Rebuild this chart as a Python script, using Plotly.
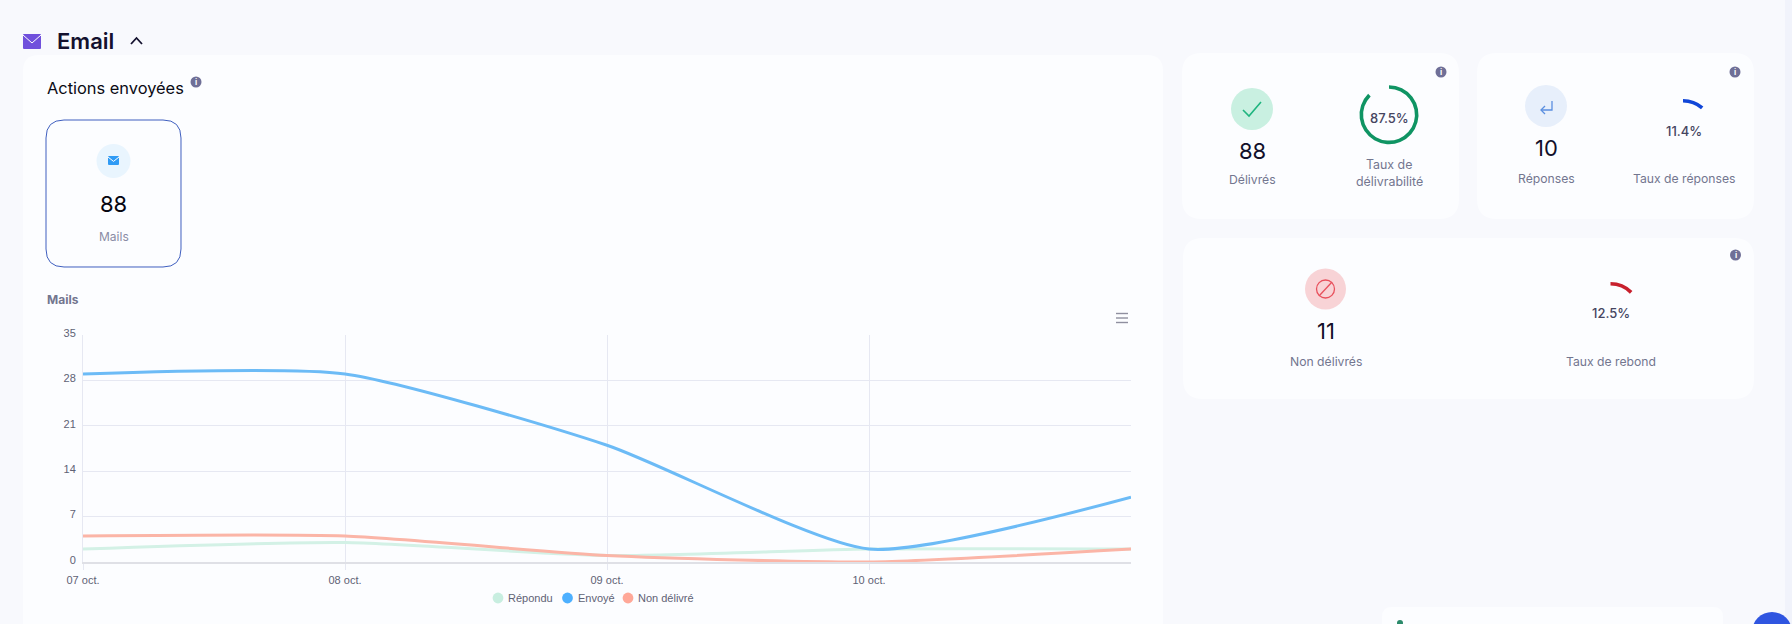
import plotly.graph_objects as go

# Chart data.
days = ['07 oct.', '08 oct.', '09 oct.', '10 oct.', '11 oct.']
day_labels = ['07 oct.', '08 oct.', '09 oct.', '10 oct.']
series_names = ['Répondu', 'Envoyé', 'Non délivré']
repondu = [2, 3, 1, 2, 2]
envoye = [29, 29, 18, 2, 10]
non_delivre = [4, 4, 1, 0, 2]
y_ticks = [0, 7, 14, 21, 28, 35]

# Gauge values.
gauge_names = ['Taux de délivrabilité', 'Taux de réponses', 'Taux de rebond']
gauge_values = [87.5, 11.4, 12.5]

W, H = 1792, 624
TEXT_FONT = 'Inter, Liberation Sans, sans-serif'
CHART_FONT = 'Liberation Sans, Arial, sans-serif'
BG = '#f8f9fd'
CARD = '#fcfdff'
GRID = '#e6e8f2'
LINE_COLORS = ['#d3f1e6', '#6cbbf6', '#fbb5a7']
LEGEND_COLORS = ['#c8eee0', '#4db0ff', '#ffa898']
GREY = '#73768f'
INFO = '#6f6f97'


def px(x):
    return x / W


def py(y):
    return 1 - y / H


def pt(x, y):
    return f'{px(x):.5f},{py(y):.5f}'


shapes = []
annotations = []


def path(d, fill=None, line=None, width=1):
    shapes.append(dict(type='path', xref='paper', yref='paper', path=d, layer='below',
                       fillcolor=fill or 'rgba(0,0,0,0)',
                       line=dict(color=line or 'rgba(0,0,0,0)', width=width if line else 0)))


def round_rect(x0, y0, x1, y1, r, fill=None, line=None, width=1):
    d = ('M' + pt(x0 + r, y0) + ' L' + pt(x1 - r, y0) + ' Q' + pt(x1, y0) + ' ' + pt(x1, y0 + r)
         + ' L' + pt(x1, y1 - r) + ' Q' + pt(x1, y1) + ' ' + pt(x1 - r, y1)
         + ' L' + pt(x0 + r, y1) + ' Q' + pt(x0, y1) + ' ' + pt(x0, y1 - r)
         + ' L' + pt(x0, y0 + r) + ' Q' + pt(x0, y0) + ' ' + pt(x0 + r, y0) + ' Z')
    path(d, fill, line, width)


def circle(cx, cy, r, fill=None, line=None, width=1):
    shapes.append(dict(type='circle', xref='paper', yref='paper', layer='below',
                       x0=px(cx - r), x1=px(cx + r), y0=py(cy + r), y1=py(cy - r),
                       fillcolor=fill or 'rgba(0,0,0,0)',
                       line=dict(color=line or 'rgba(0,0,0,0)', width=width if line else 0)))


def polyline(points, color, width=1.5):
    d = 'M' + ' L'.join(pt(x, y) for x, y in points)
    path(d, None, color, width)


def label(x, y, text, size=12, color=GREY, weight=400, anchor='center', family=TEXT_FONT):
    annotations.append(dict(xref='paper', yref='paper', x=px(x), y=py(y), text=text, showarrow=False,
                            xanchor=anchor, yanchor='middle', borderpad=0,
                            font=dict(family=family, size=size, color=color, weight=weight)))


def info(x, y):
    circle(x, y, 5.5, INFO)
    label(x, y, 'i', 8, 'white', 700)


def envelope(x0, y0, x1, y1, color):
    round_rect(x0, y0, x1, y1, 1, color)
    mx = (x0 + x1) / 2
    my = y0 + (y1 - y0) * 0.6
    polyline([(x0, y0 + 1), (mx, my), (x1, y0 + 1)], 'white', 1)


# Cards and page furniture.
shapes.append(dict(type='rect', xref='paper', yref='paper', layer='below', x0=px(1785), x1=1, y0=0, y1=1,
                   fillcolor='#f1f3fb', line=dict(width=0)))
round_rect(23, 55, 1163, 660, 16, CARD)
round_rect(1182, 53, 1459, 219, 20, CARD)
round_rect(1477, 53, 1754, 219, 20, CARD)
round_rect(1183, 238, 1754, 399, 20, CARD)
round_rect(1382, 607, 1723, 660, 10, CARD)
circle(1400, 623, 3, '#2b8a6a')
circle(1772, 632, 20, '#2f55e0')

# Header.
envelope(23, 34, 41, 49, '#7050dc')
label(56, 41, 'Email', 22, '#14112e', 600, 'left')
polyline([(131, 44), (136.5, 38), (142, 44)], '#14112e', 1.8)
label(45.5, 88, 'Actions envoyées', 16.4, '#0a0a14', 400, 'left')
info(196, 82)

# Mails box.
round_rect(46, 120, 181, 267, 18, None, '#3f5fbf', 1)
circle(113.5, 161, 17, '#e9f5fe')
envelope(108, 156, 119, 165, '#2f9bf5')
label(113.5, 204, '88', 22, '#05050f', 400)
label(113.5, 236, 'Mails', 12, '#8a8ca5')
label(45.5, 299, 'Mails', 12, GREY, 700, 'left')

# Delivered card.
info(1441, 72)
circle(1252, 109, 21, '#c9f0e1')
polyline([(1243, 110), (1249, 116), (1261, 102)], '#1fb57f', 1.6)
label(1252, 151, '88', 22, '#12102a', 400)
label(1252, 180, 'Délivrés', 12.2)
label(1389, 118, '87.5%', 13, '#45455f', 500)
label(1389, 165, 'Taux de', 12.4)
label(1389, 181, 'délivrabilité', 12.4)

# Replies card.
info(1735, 72)
circle(1546, 106, 21, '#e7effb')
polyline([(1552, 101), (1552, 110), (1542, 110)], '#5b8fe0', 1.3)
polyline([(1545, 106), (1541, 110), (1545, 114)], '#5b8fe0', 1.3)
label(1546, 148, '10', 22, '#12102a', 400)
label(1546, 178, 'Réponses', 12.2)
label(1684, 131, '11.4%', 13, '#45455f', 500)
label(1684, 178, 'Taux de réponses', 12.2)

# Bounce card.
info(1735.5, 255)
circle(1325.5, 289, 20.5, '#f8d3d6')
circle(1325.5, 289, 9, None, '#e8505c', 1.3)
polyline([(1319, 296), (1332, 282)], '#e8505c', 1.3)
label(1325.5, 331, '11', 22, '#12102a', 400)
label(1325.5, 361, 'Non délivrés', 12.2)
label(1610.5, 313, '12.5%', 13, '#45455f', 500)
label(1610.5, 361, 'Taux de rebond', 12.2)

# Chart menu icon.
for y in [313.5, 318, 322.5]:
    polyline([(1116, y), (1128, y)], '#8f8f9f', 1.4)

# Legend under the chart.
legend_marks = [498, 567.5, 628]
for name, color, x in zip(series_names, LEGEND_COLORS, legend_marks):
    circle(x, 598, 5.4, color)
    label(x + 9, 598, name, 11, '#5f6275', 400, 'left', CHART_FONT)

fig = go.Figure()

# The three chart lines.
for name, values, color in zip(series_names, [repondu, envoye, non_delivre], LINE_COLORS):
    fig.add_trace(go.Scatter(x=days, y=values, name=name, mode='lines', cliponaxis=False,
                             line=dict(color=color, width=3, shape='spline', smoothing=0.6)))

# The three gauges as donuts.
gauge_places = [(1389, 114.7, 29.5, '#0f9463'), (1683, 130, 31, '#1046d8'), (1610.5, 313, 31, '#c8202d')]
for name, value, (cx, cy, r, color) in zip(gauge_names, gauge_values, gauge_places):
    fig.add_trace(go.Pie(values=[value, 100 - value], labels=[name, ''], sort=False, direction='clockwise',
                         rotation=0, hole=(r - 3.6) / r, textinfo='none', showlegend=False,
                         marker=dict(colors=[color, 'rgba(0,0,0,0)'], line=dict(width=0)),
                         domain=dict(x=[px(cx - r), px(cx + r)], y=[py(cy + r), py(cy - r)])))

fig.update_layout(
    width=W, height=H, margin=dict(l=0, r=0, t=0, b=0, pad=0, autoexpand=False),
    paper_bgcolor=BG, plot_bgcolor='rgba(0,0,0,0)', showlegend=False,
    shapes=shapes, annotations=annotations,
    xaxis=dict(domain=[px(83), px(1131)], type='category', categoryorder='array', categoryarray=days,
               range=[0, 4], tickvals=day_labels, ticktext=day_labels, showgrid=True, gridcolor=GRID,
               gridwidth=1, showline=True, linecolor='#dfe0e6', linewidth=2, ticks='outside', ticklen=6,
               tickcolor=GRID, tickfont=dict(family=CHART_FONT, size=11, color='#5f6275'), zeroline=False,
               ticklabelstandoff=1, automargin=False),
    yaxis=dict(domain=[py(562), py(335)], range=[0, 35], tickvals=y_ticks, showgrid=True, gridcolor=GRID,
               gridwidth=1, showline=True, linecolor=GRID, linewidth=1, ticks='', zeroline=False,
               tickfont=dict(family=CHART_FONT, size=11, color='#5f6275'), ticklabelstandoff=4,
               ticklabelshift=-2, automargin=False),
)

# The page itself must have no margin so the figure fills the window.
fig.write_html('out.html', config=dict(displayModeBar=False),
               post_script="document.body.style.margin='0';document.body.style.overflow='hidden';"
                           "document.body.style.background='" + BG + "';")
